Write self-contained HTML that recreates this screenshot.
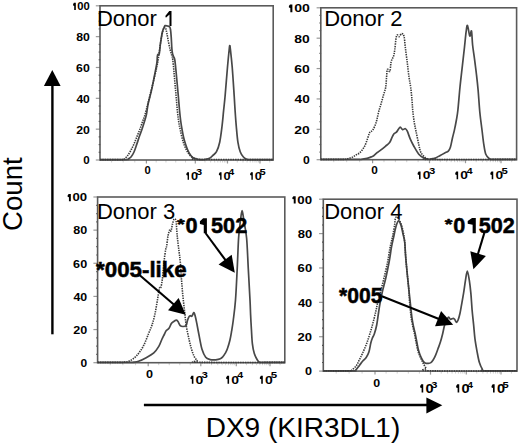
<!DOCTYPE html>
<html><head><meta charset="utf-8"><style>
html,body{margin:0;padding:0;background:#fff;}
body{width:520px;height:445px;overflow:hidden;}
svg{display:block;}
</style></head><body>
<svg width="520" height="445" viewBox="0 0 520 445">
<style>
text{font-family:"Liberation Sans",sans-serif;}
.fr{fill:none;stroke:#5a5a5a;stroke-width:1.6}
.tk{stroke:#999;stroke-width:1.2}
.ym{stroke:#444;stroke-width:1.2}
.mt{stroke:#ccc;stroke-width:0.9}
.sol{fill:none;stroke:#484848;stroke-width:1.7;stroke-linejoin:round}
.dot{fill:none;stroke:#3a3a3a;stroke-width:1.6;stroke-dasharray:1.4 1.0}
</style>
<rect width="520" height="445" fill="#fff"/>
<line x1="95.8" y1="160" x2="100" y2="160" class="tk"/>
<line x1="98.7" y1="152.29" x2="100.3" y2="152.29" class="ym"/>
<line x1="98.7" y1="144.58" x2="100.3" y2="144.58" class="ym"/>
<line x1="98.7" y1="136.87" x2="100.3" y2="136.87" class="ym"/>
<line x1="95.8" y1="129.16" x2="100" y2="129.16" class="tk"/>
<line x1="98.7" y1="121.45" x2="100.3" y2="121.45" class="ym"/>
<line x1="98.7" y1="113.74" x2="100.3" y2="113.74" class="ym"/>
<line x1="98.7" y1="106.03" x2="100.3" y2="106.03" class="ym"/>
<line x1="95.8" y1="98.32" x2="100" y2="98.32" class="tk"/>
<line x1="98.7" y1="90.61" x2="100.3" y2="90.61" class="ym"/>
<line x1="98.7" y1="82.9" x2="100.3" y2="82.9" class="ym"/>
<line x1="98.7" y1="75.19" x2="100.3" y2="75.19" class="ym"/>
<line x1="95.8" y1="67.48" x2="100" y2="67.48" class="tk"/>
<line x1="98.7" y1="59.77" x2="100.3" y2="59.77" class="ym"/>
<line x1="98.7" y1="52.06" x2="100.3" y2="52.06" class="ym"/>
<line x1="98.7" y1="44.35" x2="100.3" y2="44.35" class="ym"/>
<line x1="95.8" y1="36.64" x2="100" y2="36.64" class="tk"/>
<line x1="98.7" y1="28.93" x2="100.3" y2="28.93" class="ym"/>
<line x1="98.7" y1="21.22" x2="100.3" y2="21.22" class="ym"/>
<line x1="98.7" y1="13.51" x2="100.3" y2="13.51" class="ym"/>
<line x1="95.8" y1="5.8" x2="100" y2="5.8" class="tk"/>
<line x1="146.4" y1="160" x2="146.4" y2="163.5" class="tk"/>
<line x1="195.3" y1="160" x2="195.3" y2="163.5" class="tk"/>
<line x1="227.5" y1="160" x2="227.5" y2="163.5" class="tk"/>
<line x1="260" y1="160" x2="260" y2="163.5" class="tk"/>
<line x1="134.8" y1="160" x2="134.8" y2="162.5" class="mt"/>
<line x1="123.2" y1="160" x2="123.2" y2="162.5" class="mt"/>
<line x1="111.6" y1="160" x2="111.6" y2="162.5" class="mt"/>
<line x1="156.18" y1="160" x2="156.18" y2="162.5" class="mt"/>
<line x1="165.96" y1="160" x2="165.96" y2="162.5" class="mt"/>
<line x1="175.74" y1="160" x2="175.74" y2="162.5" class="mt"/>
<line x1="185.52" y1="160" x2="185.52" y2="162.5" class="mt"/>
<line x1="204.99" y1="160" x2="204.99" y2="162.5" class="mt"/>
<line x1="210.66" y1="160" x2="210.66" y2="162.5" class="mt"/>
<line x1="214.69" y1="160" x2="214.69" y2="162.5" class="mt"/>
<line x1="217.81" y1="160" x2="217.81" y2="162.5" class="mt"/>
<line x1="220.36" y1="160" x2="220.36" y2="162.5" class="mt"/>
<line x1="222.51" y1="160" x2="222.51" y2="162.5" class="mt"/>
<line x1="224.38" y1="160" x2="224.38" y2="162.5" class="mt"/>
<line x1="226.03" y1="160" x2="226.03" y2="162.5" class="mt"/>
<line x1="237.28" y1="160" x2="237.28" y2="162.5" class="mt"/>
<line x1="243.01" y1="160" x2="243.01" y2="162.5" class="mt"/>
<line x1="247.07" y1="160" x2="247.07" y2="162.5" class="mt"/>
<line x1="250.22" y1="160" x2="250.22" y2="162.5" class="mt"/>
<line x1="252.79" y1="160" x2="252.79" y2="162.5" class="mt"/>
<line x1="254.97" y1="160" x2="254.97" y2="162.5" class="mt"/>
<line x1="256.85" y1="160" x2="256.85" y2="162.5" class="mt"/>
<line x1="258.51" y1="160" x2="258.51" y2="162.5" class="mt"/>
<line x1="269.78" y1="160" x2="269.78" y2="162.5" class="mt"/>
<rect x="100" y="5.8" width="173.2" height="154.2" class="fr"/>
<text x="83.34" y="164.34" font-size="10.7" font-weight="bold" textLength="6.44" lengthAdjust="spacingAndGlyphs" fill="#000" >0</text>
<text x="76.17" y="133.5" font-size="10.7" font-weight="bold" textLength="13.65" lengthAdjust="spacingAndGlyphs" fill="#000" >20</text>
<text x="76.42" y="102.66" font-size="10.7" font-weight="bold" textLength="13.39" lengthAdjust="spacingAndGlyphs" fill="#000" >40</text>
<text x="76.14" y="71.83" font-size="10.7" font-weight="bold" textLength="13.68" lengthAdjust="spacingAndGlyphs" fill="#000" >60</text>
<text x="76.2" y="40.98" font-size="10.7" font-weight="bold" textLength="13.62" lengthAdjust="spacingAndGlyphs" fill="#000" >80</text>
<polygon fill="#000" points="75.83,2.76 75.83,10.05 74.2,10.05 74.2,5.96 73.1,5.53 73.1,4.21 73.91,2.76"/>
<text x="77.28" y="10.15" font-size="10.7" font-weight="bold" textLength="12.5" lengthAdjust="spacingAndGlyphs" fill="#000" >00</text>
<text x="144.45" y="174.3" font-size="10.5" font-weight="bold" textLength="6.21" lengthAdjust="spacingAndGlyphs" fill="#000" >0</text>
<polygon fill="#000" points="189.01,172.21 189.01,179.75 187.59,179.75 187.59,175.53 186.35,175.08 186.35,173.72 187.29,172.21"/>
<text x="191.05" y="179.9" font-size="11.2" font-weight="bold" textLength="7.07" lengthAdjust="spacingAndGlyphs" fill="#000" >0</text>
<text x="195.95" y="174.6" font-size="9.8" font-weight="bold" textLength="6.15" lengthAdjust="spacingAndGlyphs" fill="#000" >3</text>
<polygon fill="#000" points="221.56,172.21 221.56,179.75 220.14,179.75 220.14,175.53 218.9,175.08 218.9,173.72 219.84,172.21"/>
<text x="223.6" y="179.9" font-size="11.2" font-weight="bold" textLength="7.07" lengthAdjust="spacingAndGlyphs" fill="#000" >0</text>
<text x="228.6" y="174.6" font-size="9.8" font-weight="bold" textLength="5.72" lengthAdjust="spacingAndGlyphs" fill="#000" >4</text>
<polygon fill="#000" points="252.81,172.21 252.81,179.75 251.39,179.75 251.39,175.53 250.15,175.08 250.15,173.72 251.09,172.21"/>
<text x="254.85" y="179.9" font-size="11.2" font-weight="bold" textLength="7.07" lengthAdjust="spacingAndGlyphs" fill="#000" >0</text>
<text x="259.64" y="174.6" font-size="9.8" font-weight="bold" textLength="6.18" lengthAdjust="spacingAndGlyphs" fill="#000" >5</text>
<line x1="316.6" y1="159.7" x2="320.8" y2="159.7" class="tk"/>
<line x1="319.5" y1="152.1" x2="321.1" y2="152.1" class="ym"/>
<line x1="319.5" y1="144.51" x2="321.1" y2="144.51" class="ym"/>
<line x1="319.5" y1="136.91" x2="321.1" y2="136.91" class="ym"/>
<line x1="316.6" y1="129.32" x2="320.8" y2="129.32" class="tk"/>
<line x1="319.5" y1="121.72" x2="321.1" y2="121.72" class="ym"/>
<line x1="319.5" y1="114.13" x2="321.1" y2="114.13" class="ym"/>
<line x1="319.5" y1="106.53" x2="321.1" y2="106.53" class="ym"/>
<line x1="316.6" y1="98.94" x2="320.8" y2="98.94" class="tk"/>
<line x1="319.5" y1="91.34" x2="321.1" y2="91.34" class="ym"/>
<line x1="319.5" y1="83.75" x2="321.1" y2="83.75" class="ym"/>
<line x1="319.5" y1="76.16" x2="321.1" y2="76.16" class="ym"/>
<line x1="316.6" y1="68.56" x2="320.8" y2="68.56" class="tk"/>
<line x1="319.5" y1="60.97" x2="321.1" y2="60.97" class="ym"/>
<line x1="319.5" y1="53.37" x2="321.1" y2="53.37" class="ym"/>
<line x1="319.5" y1="45.78" x2="321.1" y2="45.78" class="ym"/>
<line x1="316.6" y1="38.18" x2="320.8" y2="38.18" class="tk"/>
<line x1="319.5" y1="30.59" x2="321.1" y2="30.59" class="ym"/>
<line x1="319.5" y1="22.99" x2="321.1" y2="22.99" class="ym"/>
<line x1="319.5" y1="15.4" x2="321.1" y2="15.4" class="ym"/>
<line x1="316.6" y1="7.8" x2="320.8" y2="7.8" class="tk"/>
<line x1="372.6" y1="159.7" x2="372.6" y2="163.2" class="tk"/>
<line x1="429.5" y1="159.7" x2="429.5" y2="163.2" class="tk"/>
<line x1="465.5" y1="159.7" x2="465.5" y2="163.2" class="tk"/>
<line x1="501" y1="159.7" x2="501" y2="163.2" class="tk"/>
<line x1="359.65" y1="159.7" x2="359.65" y2="162.2" class="mt"/>
<line x1="346.7" y1="159.7" x2="346.7" y2="162.2" class="mt"/>
<line x1="333.75" y1="159.7" x2="333.75" y2="162.2" class="mt"/>
<line x1="383.98" y1="159.7" x2="383.98" y2="162.2" class="mt"/>
<line x1="395.36" y1="159.7" x2="395.36" y2="162.2" class="mt"/>
<line x1="406.74" y1="159.7" x2="406.74" y2="162.2" class="mt"/>
<line x1="418.12" y1="159.7" x2="418.12" y2="162.2" class="mt"/>
<line x1="440.34" y1="159.7" x2="440.34" y2="162.2" class="mt"/>
<line x1="446.68" y1="159.7" x2="446.68" y2="162.2" class="mt"/>
<line x1="451.17" y1="159.7" x2="451.17" y2="162.2" class="mt"/>
<line x1="454.66" y1="159.7" x2="454.66" y2="162.2" class="mt"/>
<line x1="457.51" y1="159.7" x2="457.51" y2="162.2" class="mt"/>
<line x1="459.92" y1="159.7" x2="459.92" y2="162.2" class="mt"/>
<line x1="462.01" y1="159.7" x2="462.01" y2="162.2" class="mt"/>
<line x1="463.85" y1="159.7" x2="463.85" y2="162.2" class="mt"/>
<line x1="476.19" y1="159.7" x2="476.19" y2="162.2" class="mt"/>
<line x1="482.44" y1="159.7" x2="482.44" y2="162.2" class="mt"/>
<line x1="486.87" y1="159.7" x2="486.87" y2="162.2" class="mt"/>
<line x1="490.31" y1="159.7" x2="490.31" y2="162.2" class="mt"/>
<line x1="493.12" y1="159.7" x2="493.12" y2="162.2" class="mt"/>
<line x1="495.5" y1="159.7" x2="495.5" y2="162.2" class="mt"/>
<line x1="497.56" y1="159.7" x2="497.56" y2="162.2" class="mt"/>
<line x1="499.38" y1="159.7" x2="499.38" y2="162.2" class="mt"/>
<line x1="511.69" y1="159.7" x2="511.69" y2="162.2" class="mt"/>
<rect x="320.8" y="7.8" width="195.8" height="151.9" class="fr"/>
<text x="302.91" y="164.25" font-size="11.3" font-weight="bold" textLength="6.79" lengthAdjust="spacingAndGlyphs" fill="#000" >0</text>
<text x="294.31" y="133.88" font-size="11.3" font-weight="bold" textLength="15.48" lengthAdjust="spacingAndGlyphs" fill="#000" >20</text>
<text x="294.6" y="103.49" font-size="11.3" font-weight="bold" textLength="15.18" lengthAdjust="spacingAndGlyphs" fill="#000" >40</text>
<text x="294.28" y="73.11" font-size="11.3" font-weight="bold" textLength="15.51" lengthAdjust="spacingAndGlyphs" fill="#000" >60</text>
<text x="294.35" y="42.74" font-size="11.3" font-weight="bold" textLength="15.44" lengthAdjust="spacingAndGlyphs" fill="#000" >80</text>
<polygon fill="#000" points="292.37,4.55 292.37,12.26 290.33,12.26 290.33,7.94 288.9,7.47 288.9,6.09 290.02,4.55"/>
<text x="294.15" y="12.36" font-size="11.3" font-weight="bold" textLength="15.64" lengthAdjust="spacingAndGlyphs" fill="#000" >00</text>
<text x="371.33" y="173.9" font-size="10.5" font-weight="bold" textLength="6.56" lengthAdjust="spacingAndGlyphs" fill="#000" >0</text>
<polygon fill="#000" points="420.55,171.57 420.55,179.25 419.01,179.25 419.01,174.95 417.65,174.49 417.65,173.11 418.7,171.57"/>
<text x="422.73" y="179.4" font-size="11.4" font-weight="bold" textLength="7.63" lengthAdjust="spacingAndGlyphs" fill="#000" >0</text>
<text x="429.05" y="174.3" font-size="9.8" font-weight="bold" textLength="6.26" lengthAdjust="spacingAndGlyphs" fill="#000" >3</text>
<polygon fill="#000" points="458.15,171.57 458.15,179.25 456.61,179.25 456.61,174.95 455.25,174.49 455.25,173.11 456.3,171.57"/>
<text x="460.33" y="179.4" font-size="11.4" font-weight="bold" textLength="7.63" lengthAdjust="spacingAndGlyphs" fill="#000" >0</text>
<text x="466.74" y="174.3" font-size="9.8" font-weight="bold" textLength="5.82" lengthAdjust="spacingAndGlyphs" fill="#000" >4</text>
<polygon fill="#000" points="493.25,171.57 493.25,179.25 491.71,179.25 491.71,174.95 490.35,174.49 490.35,173.11 491.4,171.57"/>
<text x="495.43" y="179.4" font-size="11.4" font-weight="bold" textLength="7.63" lengthAdjust="spacingAndGlyphs" fill="#000" >0</text>
<text x="501.63" y="174.3" font-size="9.8" font-weight="bold" textLength="6.29" lengthAdjust="spacingAndGlyphs" fill="#000" >5</text>
<line x1="93.4" y1="362.7" x2="97.6" y2="362.7" class="tk"/>
<line x1="96.3" y1="354.41" x2="97.9" y2="354.41" class="ym"/>
<line x1="96.3" y1="346.13" x2="97.9" y2="346.13" class="ym"/>
<line x1="96.3" y1="337.84" x2="97.9" y2="337.84" class="ym"/>
<line x1="93.4" y1="329.56" x2="97.6" y2="329.56" class="tk"/>
<line x1="96.3" y1="321.27" x2="97.9" y2="321.27" class="ym"/>
<line x1="96.3" y1="312.99" x2="97.9" y2="312.99" class="ym"/>
<line x1="96.3" y1="304.7" x2="97.9" y2="304.7" class="ym"/>
<line x1="93.4" y1="296.42" x2="97.6" y2="296.42" class="tk"/>
<line x1="96.3" y1="288.13" x2="97.9" y2="288.13" class="ym"/>
<line x1="96.3" y1="279.85" x2="97.9" y2="279.85" class="ym"/>
<line x1="96.3" y1="271.56" x2="97.9" y2="271.56" class="ym"/>
<line x1="93.4" y1="263.28" x2="97.6" y2="263.28" class="tk"/>
<line x1="96.3" y1="255" x2="97.9" y2="255" class="ym"/>
<line x1="96.3" y1="246.71" x2="97.9" y2="246.71" class="ym"/>
<line x1="96.3" y1="238.42" x2="97.9" y2="238.42" class="ym"/>
<line x1="93.4" y1="230.14" x2="97.6" y2="230.14" class="tk"/>
<line x1="96.3" y1="221.86" x2="97.9" y2="221.86" class="ym"/>
<line x1="96.3" y1="213.57" x2="97.9" y2="213.57" class="ym"/>
<line x1="96.3" y1="205.28" x2="97.9" y2="205.28" class="ym"/>
<line x1="93.4" y1="197" x2="97.6" y2="197" class="tk"/>
<line x1="148.2" y1="362.7" x2="148.2" y2="366.2" class="tk"/>
<line x1="200.8" y1="362.7" x2="200.8" y2="366.2" class="tk"/>
<line x1="236.3" y1="362.7" x2="236.3" y2="366.2" class="tk"/>
<line x1="270" y1="362.7" x2="270" y2="366.2" class="tk"/>
<line x1="135.55" y1="362.7" x2="135.55" y2="365.2" class="mt"/>
<line x1="122.9" y1="362.7" x2="122.9" y2="365.2" class="mt"/>
<line x1="110.25" y1="362.7" x2="110.25" y2="365.2" class="mt"/>
<line x1="158.72" y1="362.7" x2="158.72" y2="365.2" class="mt"/>
<line x1="169.24" y1="362.7" x2="169.24" y2="365.2" class="mt"/>
<line x1="179.76" y1="362.7" x2="179.76" y2="365.2" class="mt"/>
<line x1="190.28" y1="362.7" x2="190.28" y2="365.2" class="mt"/>
<line x1="211.49" y1="362.7" x2="211.49" y2="365.2" class="mt"/>
<line x1="217.74" y1="362.7" x2="217.74" y2="365.2" class="mt"/>
<line x1="222.17" y1="362.7" x2="222.17" y2="365.2" class="mt"/>
<line x1="225.61" y1="362.7" x2="225.61" y2="365.2" class="mt"/>
<line x1="228.42" y1="362.7" x2="228.42" y2="365.2" class="mt"/>
<line x1="230.8" y1="362.7" x2="230.8" y2="365.2" class="mt"/>
<line x1="232.86" y1="362.7" x2="232.86" y2="365.2" class="mt"/>
<line x1="234.68" y1="362.7" x2="234.68" y2="365.2" class="mt"/>
<line x1="246.44" y1="362.7" x2="246.44" y2="365.2" class="mt"/>
<line x1="252.38" y1="362.7" x2="252.38" y2="365.2" class="mt"/>
<line x1="256.59" y1="362.7" x2="256.59" y2="365.2" class="mt"/>
<line x1="259.86" y1="362.7" x2="259.86" y2="365.2" class="mt"/>
<line x1="262.52" y1="362.7" x2="262.52" y2="365.2" class="mt"/>
<line x1="264.78" y1="362.7" x2="264.78" y2="365.2" class="mt"/>
<line x1="266.73" y1="362.7" x2="266.73" y2="365.2" class="mt"/>
<line x1="268.46" y1="362.7" x2="268.46" y2="365.2" class="mt"/>
<line x1="280.14" y1="362.7" x2="280.14" y2="365.2" class="mt"/>
<rect x="97.6" y="197" width="187.2" height="165.7" class="fr"/>
<text x="80.42" y="367.05" font-size="10.7" font-weight="bold" textLength="6.67" lengthAdjust="spacingAndGlyphs" fill="#000" >0</text>
<text x="73.16" y="333.91" font-size="10.7" font-weight="bold" textLength="13.97" lengthAdjust="spacingAndGlyphs" fill="#000" >20</text>
<text x="73.42" y="300.76" font-size="10.7" font-weight="bold" textLength="13.71" lengthAdjust="spacingAndGlyphs" fill="#000" >40</text>
<text x="73.13" y="267.62" font-size="10.7" font-weight="bold" textLength="14.01" lengthAdjust="spacingAndGlyphs" fill="#000" >60</text>
<text x="73.19" y="234.48" font-size="10.7" font-weight="bold" textLength="13.94" lengthAdjust="spacingAndGlyphs" fill="#000" >80</text>
<polygon fill="#000" points="70.84,193.95 70.84,201.25 68.93,201.25 68.93,197.16 67.6,196.73 67.6,195.41 68.64,193.95"/>
<text x="72.51" y="201.34" font-size="10.7" font-weight="bold" textLength="14.65" lengthAdjust="spacingAndGlyphs" fill="#000" >00</text>
<text x="145.99" y="377.9" font-size="10.6" font-weight="bold" textLength="7.03" lengthAdjust="spacingAndGlyphs" fill="#000" >0</text>
<polygon fill="#000" points="193.4,375.79 193.4,383.75 191.84,383.75 191.84,379.29 190.45,378.81 190.45,377.38 191.52,375.79"/>
<text x="195.62" y="383.9" font-size="11.8" font-weight="bold" textLength="7.76" lengthAdjust="spacingAndGlyphs" fill="#000" >0</text>
<text x="201.54" y="378" font-size="9.8" font-weight="bold" textLength="6.37" lengthAdjust="spacingAndGlyphs" fill="#000" >3</text>
<polygon fill="#000" points="229.1,375.79 229.1,383.75 227.54,383.75 227.54,379.29 226.15,378.81 226.15,377.38 227.22,375.79"/>
<text x="231.32" y="383.9" font-size="11.8" font-weight="bold" textLength="7.76" lengthAdjust="spacingAndGlyphs" fill="#000" >0</text>
<text x="237.34" y="378" font-size="9.8" font-weight="bold" textLength="5.93" lengthAdjust="spacingAndGlyphs" fill="#000" >4</text>
<polygon fill="#000" points="262.8,375.79 262.8,383.75 261.24,383.75 261.24,379.29 259.85,378.81 259.85,377.38 260.92,375.79"/>
<text x="265.02" y="383.9" font-size="11.8" font-weight="bold" textLength="7.76" lengthAdjust="spacingAndGlyphs" fill="#000" >0</text>
<text x="270.83" y="378" font-size="9.8" font-weight="bold" textLength="6.4" lengthAdjust="spacingAndGlyphs" fill="#000" >5</text>
<line x1="319.1" y1="371.1" x2="323.3" y2="371.1" class="tk"/>
<line x1="322" y1="362.5" x2="323.6" y2="362.5" class="ym"/>
<line x1="322" y1="353.91" x2="323.6" y2="353.91" class="ym"/>
<line x1="322" y1="345.31" x2="323.6" y2="345.31" class="ym"/>
<line x1="319.1" y1="336.72" x2="323.3" y2="336.72" class="tk"/>
<line x1="322" y1="328.12" x2="323.6" y2="328.12" class="ym"/>
<line x1="322" y1="319.53" x2="323.6" y2="319.53" class="ym"/>
<line x1="322" y1="310.94" x2="323.6" y2="310.94" class="ym"/>
<line x1="319.1" y1="302.34" x2="323.3" y2="302.34" class="tk"/>
<line x1="322" y1="293.75" x2="323.6" y2="293.75" class="ym"/>
<line x1="322" y1="285.15" x2="323.6" y2="285.15" class="ym"/>
<line x1="322" y1="276.56" x2="323.6" y2="276.56" class="ym"/>
<line x1="319.1" y1="267.96" x2="323.3" y2="267.96" class="tk"/>
<line x1="322" y1="259.37" x2="323.6" y2="259.37" class="ym"/>
<line x1="322" y1="250.77" x2="323.6" y2="250.77" class="ym"/>
<line x1="322" y1="242.18" x2="323.6" y2="242.18" class="ym"/>
<line x1="319.1" y1="233.58" x2="323.3" y2="233.58" class="tk"/>
<line x1="322" y1="224.98" x2="323.6" y2="224.98" class="ym"/>
<line x1="322" y1="216.39" x2="323.6" y2="216.39" class="ym"/>
<line x1="322" y1="207.79" x2="323.6" y2="207.79" class="ym"/>
<line x1="319.1" y1="199.2" x2="323.3" y2="199.2" class="tk"/>
<line x1="375" y1="371.1" x2="375" y2="374.6" class="tk"/>
<line x1="430.5" y1="371.1" x2="430.5" y2="374.6" class="tk"/>
<line x1="466.3" y1="371.1" x2="466.3" y2="374.6" class="tk"/>
<line x1="501" y1="371.1" x2="501" y2="374.6" class="tk"/>
<line x1="362.07" y1="371.1" x2="362.07" y2="373.6" class="mt"/>
<line x1="349.15" y1="371.1" x2="349.15" y2="373.6" class="mt"/>
<line x1="336.23" y1="371.1" x2="336.23" y2="373.6" class="mt"/>
<line x1="386.1" y1="371.1" x2="386.1" y2="373.6" class="mt"/>
<line x1="397.2" y1="371.1" x2="397.2" y2="373.6" class="mt"/>
<line x1="408.3" y1="371.1" x2="408.3" y2="373.6" class="mt"/>
<line x1="419.4" y1="371.1" x2="419.4" y2="373.6" class="mt"/>
<line x1="441.28" y1="371.1" x2="441.28" y2="373.6" class="mt"/>
<line x1="447.58" y1="371.1" x2="447.58" y2="373.6" class="mt"/>
<line x1="452.05" y1="371.1" x2="452.05" y2="373.6" class="mt"/>
<line x1="455.52" y1="371.1" x2="455.52" y2="373.6" class="mt"/>
<line x1="458.36" y1="371.1" x2="458.36" y2="373.6" class="mt"/>
<line x1="460.75" y1="371.1" x2="460.75" y2="373.6" class="mt"/>
<line x1="462.83" y1="371.1" x2="462.83" y2="373.6" class="mt"/>
<line x1="464.66" y1="371.1" x2="464.66" y2="373.6" class="mt"/>
<line x1="476.75" y1="371.1" x2="476.75" y2="373.6" class="mt"/>
<line x1="482.86" y1="371.1" x2="482.86" y2="373.6" class="mt"/>
<line x1="487.19" y1="371.1" x2="487.19" y2="373.6" class="mt"/>
<line x1="490.55" y1="371.1" x2="490.55" y2="373.6" class="mt"/>
<line x1="493.3" y1="371.1" x2="493.3" y2="373.6" class="mt"/>
<line x1="495.62" y1="371.1" x2="495.62" y2="373.6" class="mt"/>
<line x1="497.64" y1="371.1" x2="497.64" y2="373.6" class="mt"/>
<line x1="499.41" y1="371.1" x2="499.41" y2="373.6" class="mt"/>
<line x1="511.45" y1="371.1" x2="511.45" y2="373.6" class="mt"/>
<rect x="323.3" y="199.2" width="193.7" height="171.9" class="fr"/>
<text x="305.09" y="375.45" font-size="10.7" font-weight="bold" textLength="7.03" lengthAdjust="spacingAndGlyphs" fill="#000" >0</text>
<text x="297.64" y="341.07" font-size="10.7" font-weight="bold" textLength="14.51" lengthAdjust="spacingAndGlyphs" fill="#000" >20</text>
<text x="297.91" y="306.69" font-size="10.7" font-weight="bold" textLength="14.23" lengthAdjust="spacingAndGlyphs" fill="#000" >40</text>
<text x="297.61" y="272.31" font-size="10.7" font-weight="bold" textLength="14.54" lengthAdjust="spacingAndGlyphs" fill="#000" >60</text>
<text x="297.68" y="237.92" font-size="10.7" font-weight="bold" textLength="14.47" lengthAdjust="spacingAndGlyphs" fill="#000" >80</text>
<polygon fill="#000" points="295.67,196.15 295.67,203.44 293.74,203.44 293.74,199.36 292.4,198.93 292.4,197.61 293.45,196.15"/>
<text x="297.36" y="203.54" font-size="10.7" font-weight="bold" textLength="14.8" lengthAdjust="spacingAndGlyphs" fill="#000" >00</text>
<text x="373.3" y="386.5" font-size="10.6" font-weight="bold" textLength="6.91" lengthAdjust="spacingAndGlyphs" fill="#000" >0</text>
<polygon fill="#000" points="423.23,384.35 423.23,392.45 421.61,392.45 421.61,387.91 420.15,387.43 420.15,385.97 421.28,384.35"/>
<text x="425.53" y="392.6" font-size="12" font-weight="bold" textLength="8.07" lengthAdjust="spacingAndGlyphs" fill="#000" >0</text>
<text x="431.25" y="387.6" font-size="9.8" font-weight="bold" textLength="6.15" lengthAdjust="spacingAndGlyphs" fill="#000" >3</text>
<polygon fill="#000" points="459.23,384.35 459.23,392.45 457.61,392.45 457.61,387.91 456.15,387.43 456.15,385.97 457.28,384.35"/>
<text x="461.53" y="392.6" font-size="12" font-weight="bold" textLength="8.07" lengthAdjust="spacingAndGlyphs" fill="#000" >0</text>
<text x="467.35" y="387.6" font-size="9.8" font-weight="bold" textLength="5.72" lengthAdjust="spacingAndGlyphs" fill="#000" >4</text>
<polygon fill="#000" points="494.63,384.35 494.63,392.45 493,392.45 493,387.91 491.55,387.43 491.55,385.97 492.68,384.35"/>
<text x="496.93" y="392.6" font-size="12" font-weight="bold" textLength="8.07" lengthAdjust="spacingAndGlyphs" fill="#000" >0</text>
<text x="502.54" y="387.6" font-size="9.8" font-weight="bold" textLength="6.18" lengthAdjust="spacingAndGlyphs" fill="#000" >5</text>
<path class="sol" d="M100,159.6 C104.33,159.6 121.3,159.7 126,159.6 C130.7,159.5 127.37,159.43 128.2,159 C129.03,158.57 130.03,158.17 131,157 C131.97,155.83 133.02,154.18 134,152 C134.98,149.82 135.98,146.57 136.9,143.9 C137.82,141.23 138.65,138.45 139.5,136 C140.35,133.55 141.2,131.53 142,129.2 C142.8,126.87 143.57,124.43 144.3,122 C145.03,119.57 145.77,117.6 146.4,114.6 C147.03,111.6 147.25,108.03 148.1,104 C148.95,99.97 150.48,94.9 151.5,90.4 C152.52,85.9 153.32,81.48 154.2,77 C155.08,72.52 156.28,66.83 156.8,63.5 C157.32,60.17 157.13,58.52 157.3,57 C157.47,55.48 157.47,54.97 157.8,54.4 C158.13,53.83 158.87,55.33 159.3,53.6 C159.73,51.87 159.9,47.57 160.4,44 C160.9,40.43 161.67,34.97 162.3,32.2 C162.93,29.43 163.73,28.5 164.2,27.4 C164.67,26.3 164.57,25.83 165.1,25.6 C165.63,25.37 166.65,25.8 167.4,26 C168.15,26.2 169.08,26.22 169.6,26.8 C170.12,27.38 170.23,27.82 170.5,29.5 C170.77,31.18 170.97,33.65 171.2,36.9 C171.43,40.15 171.68,46.23 171.9,49 C172.12,51.77 172.23,52.25 172.5,53.5 C172.77,54.75 173.12,55.42 173.5,56.5 C173.88,57.58 174.37,57.42 174.8,60 C175.23,62.58 175.68,67.83 176.1,72 C176.52,76.17 176.92,80.83 177.3,85 C177.68,89.17 178.03,92.83 178.4,97 C178.77,101.17 179.12,106 179.5,110 C179.88,114 180.28,117.8 180.7,121 C181.12,124.2 181.53,126.53 182,129.2 C182.47,131.87 182.93,134.57 183.5,137 C184.07,139.43 184.73,141.72 185.4,143.8 C186.07,145.88 186.77,147.8 187.5,149.5 C188.23,151.2 189.05,152.78 189.8,154 C190.55,155.22 191.27,156.08 192,156.8 C192.73,157.52 193.53,158 194.2,158.3 C194.87,158.6 195.37,158.42 196,158.6 C196.63,158.78 197,159.23 198,159.4 C199,159.57 200.83,159.6 202,159.6 C203.17,159.6 203.67,159.67 205,159.4 C206.33,159.13 208.73,158.63 210,158 C211.27,157.37 211.52,156.65 212.6,155.6 C213.68,154.55 215.32,153.93 216.5,151.7 C217.68,149.47 218.78,146.4 219.7,142.2 C220.62,138 221.35,131.75 222,126.5 C222.65,121.25 223.08,115.78 223.6,110.7 C224.12,105.62 224.45,103.28 225.1,96 C225.75,88.72 226.8,74.92 227.5,67 C228.2,59.08 228.92,52.03 229.3,48.5 C229.68,44.97 229.63,45.8 229.8,45.8 C229.97,45.8 229.9,44.97 230.3,48.5 C230.7,52.03 231.55,59.08 232.2,67 C232.85,74.92 233.72,88.72 234.2,96 C234.68,103.28 234.75,105.62 235.1,110.7 C235.45,115.78 235.83,121.25 236.3,126.5 C236.77,131.75 237.25,138 237.9,142.2 C238.55,146.4 239.28,149.23 240.2,151.7 C241.12,154.17 242.27,155.72 243.4,157 C244.53,158.28 245.57,158.97 247,159.4 C248.43,159.83 247.67,159.57 252,159.6 C256.33,159.63 269.5,159.6 273,159.6"/>
<path class="sol" d="M320.8,159.4 C326.67,159.4 349.28,159.42 356,159.4 C362.72,159.38 359.25,159.48 361.1,159.3 C362.95,159.12 365.42,158.7 367.1,158.3 C368.78,157.9 370.1,157.33 371.2,156.9 C372.3,156.47 372.77,156.37 373.7,155.7 C374.63,155.03 375.87,153.65 376.8,152.9 C377.73,152.15 377.87,152.3 379.3,151.2 C380.73,150.1 383.68,147.75 385.4,146.3 C387.12,144.85 388.52,143.93 389.6,142.5 C390.68,141.07 391.17,139.17 391.9,137.7 C392.63,136.23 393.23,134.63 394,133.7 C394.77,132.77 395.5,133.18 396.5,132.1 C397.5,131.02 399,127.62 400,127.2 C401,126.78 401.6,129.35 402.5,129.6 C403.4,129.85 404.6,128.43 405.4,128.7 C406.2,128.97 406.5,129.52 407.3,131.2 C408.1,132.88 409.08,136.25 410.2,138.8 C411.32,141.35 412.57,143.93 414,146.5 C415.43,149.07 417.18,152.28 418.8,154.2 C420.42,156.12 422.25,157.18 423.7,158 C425.15,158.82 426.38,158.9 427.5,159.1 C428.62,159.3 429.4,159.3 430.4,159.2 C431.4,159.1 432.53,158.75 433.5,158.5 C434.47,158.25 435.08,158.22 436.2,157.7 C437.32,157.18 438.77,156.2 440.2,155.4 C441.63,154.6 443.45,153.62 444.8,152.9 C446.15,152.18 447.37,152.03 448.3,151.1 C449.23,150.17 449.72,149.45 450.4,147.3 C451.08,145.15 451.73,141.07 452.4,138.2 C453.07,135.33 453.73,133.13 454.4,130.1 C455.07,127.07 455.82,123.35 456.4,120 C456.98,116.65 457.3,115.5 457.9,110 C458.5,104.5 459.25,94.4 460,87 C460.75,79.6 461.65,72.27 462.4,65.6 C463.15,58.93 463.88,52.62 464.5,47 C465.12,41.38 465.6,35.48 466.1,31.9 C466.6,28.32 466.88,24.8 467.5,25.5 C468.12,26.2 469.13,35.18 469.8,36.1 C470.47,37.02 471.03,29.52 471.5,31 C471.97,32.48 472.1,40.37 472.6,45 C473.1,49.63 473.87,53.97 474.5,58.8 C475.13,63.63 475.8,68.8 476.4,74 C477,79.2 477.53,83.67 478.1,90 C478.67,96.33 479.15,105.33 479.8,112 C480.45,118.67 481.33,124.6 482,130 C482.67,135.4 483.17,140.37 483.8,144.4 C484.43,148.43 484.87,151.82 485.8,154.2 C486.73,156.58 488.2,157.83 489.4,158.7 C490.6,159.57 488.47,159.28 493,159.4 C497.53,159.52 512.67,159.4 516.6,159.4"/>
<path class="sol" d="M97.6,362.4 C103.17,362.4 124.98,362.43 131,362.4 C137.02,362.37 132.45,362.38 133.7,362.2 C134.95,362.02 136.42,362.05 138.5,361.3 C140.58,360.55 143.65,359.1 146.2,357.7 C148.75,356.3 151.7,354.78 153.8,352.9 C155.9,351.02 157.47,348.63 158.8,346.4 C160.13,344.17 160.93,341.4 161.8,339.5 C162.67,337.6 163.25,336.5 164,335 C164.75,333.5 165.47,331.62 166.3,330.5 C167.13,329.38 168.18,329.42 169,328.3 C169.82,327.18 170.53,324.85 171.2,323.8 C171.87,322.75 172.17,322.6 173,322 C173.83,321.4 175.37,320.27 176.2,320.2 C177.03,320.13 177.33,320.7 178,321.6 C178.67,322.5 179.38,324.78 180.2,325.6 C181.02,326.42 181.92,326.5 182.9,326.5 C183.88,326.5 185.35,326.57 186.1,325.6 C186.85,324.63 186.95,322.12 187.4,320.7 C187.85,319.28 188.35,317.93 188.8,317.1 C189.25,316.27 189.58,315.85 190.1,315.7 C190.62,315.55 191.3,316.72 191.9,316.2 C192.5,315.68 193.18,312.75 193.7,312.6 C194.22,312.45 194.48,313.5 195,315.3 C195.52,317.1 196.05,319.67 196.8,323.4 C197.55,327.13 198.65,333.43 199.5,337.7 C200.35,341.97 200.87,345.73 201.9,349 C202.93,352.27 204.32,355.53 205.7,357.3 C207.08,359.07 208.52,359.18 210.2,359.6 C211.88,360.02 214.12,359.93 215.8,359.8 C217.48,359.67 219.13,359.3 220.3,358.8 C221.47,358.3 221.97,357.73 222.8,356.8 C223.63,355.87 224.55,354.5 225.3,353.2 C226.05,351.9 226.53,351.17 227.3,349 C228.07,346.83 229.18,343.17 229.9,340.2 C230.62,337.23 231.03,334.57 231.6,331.2 C232.17,327.83 232.65,325.2 233.3,320 C233.95,314.8 234.85,308.5 235.5,300 C236.15,291.5 236.68,279.33 237.2,269 C237.72,258.67 238.07,246 238.6,238 C239.13,230 239.82,225.57 240.4,221 C240.98,216.43 241.52,210.6 242.1,210.6 C242.68,210.6 243.15,216.43 243.9,221 C244.65,225.57 245.87,230 246.6,238 C247.33,246 247.73,258.67 248.3,269 C248.87,279.33 249.62,292.4 250,300 C250.38,307.6 250.37,309.72 250.6,314.6 C250.83,319.48 251.1,324.42 251.4,329.3 C251.7,334.18 251.92,339.85 252.4,343.9 C252.88,347.95 253.5,350.95 254.3,353.6 C255.1,356.25 256.33,358.35 257.2,359.8 C258.07,361.25 258.7,361.87 259.5,362.3 C260.3,362.73 257.78,362.38 262,362.4 C266.22,362.42 281,362.4 284.8,362.4"/>
<path class="sol" d="M323.3,370.8 C328.25,370.8 347.62,370.9 353,370.8 C358.38,370.7 354.53,371.1 355.6,370.2 C356.67,369.3 358.2,366.93 359.4,365.4 C360.6,363.87 361.67,362.33 362.8,361 C363.93,359.67 365.18,358.9 366.2,357.4 C367.22,355.9 368.13,354.4 368.9,352 C369.67,349.6 370.22,345.33 370.8,343 C371.38,340.67 371.82,339.5 372.4,338 C372.98,336.5 373.58,336.17 374.3,334 C375.02,331.83 375.97,328.75 376.7,325 C377.43,321.25 378.17,315 378.7,311.5 C379.23,308 379.3,307.25 379.9,304 C380.5,300.75 381.32,296.33 382.3,292 C383.28,287.67 384.67,283 385.8,278 C386.93,273 388.32,266.08 389.1,262 C389.88,257.92 390.13,255.83 390.5,253.5 C390.87,251.17 390.92,250.12 391.3,248 C391.68,245.88 392.37,242.8 392.8,240.8 C393.23,238.8 393.5,237.88 393.9,236 C394.3,234.12 394.75,231.42 395.2,229.5 C395.65,227.58 396.03,225.95 396.6,224.5 C397.17,223.05 397.83,220.55 398.6,220.8 C399.37,221.05 400.47,223.8 401.2,226 C401.93,228.2 402.42,231.33 403,234 C403.58,236.67 404.27,238.38 404.7,242 C405.13,245.62 405.22,250.8 405.6,255.7 C405.98,260.6 406.5,266.15 407,271.4 C407.5,276.65 408.08,282.27 408.6,287.2 C409.12,292.13 409.57,296.07 410.1,301 C410.63,305.93 411.23,312.55 411.8,316.8 C412.37,321.05 412.93,323.68 413.5,326.5 C414.07,329.32 414.63,331.03 415.2,333.7 C415.77,336.37 416.35,339.73 416.9,342.5 C417.45,345.27 417.95,348.17 418.5,350.3 C419.05,352.43 419.63,353.87 420.2,355.3 C420.77,356.73 421.33,357.8 421.9,358.9 C422.47,360 422.98,361.18 423.6,361.9 C424.22,362.62 424.83,362.95 425.6,363.2 C426.37,363.45 427.32,363.5 428.2,363.4 C429.08,363.3 430.08,363.17 430.9,362.6 C431.72,362.03 432.35,361.17 433.1,360 C433.85,358.83 434.6,357.43 435.4,355.6 C436.2,353.77 437.07,351.25 437.9,349 C438.73,346.75 439.62,344.6 440.4,342.1 C441.18,339.6 441.87,336.92 442.6,334 C443.33,331.08 443.85,327.38 444.8,324.6 C445.75,321.82 447.37,318.18 448.3,317.3 C449.23,316.42 449.55,319.13 450.4,319.3 C451.25,319.47 452.65,318.22 453.4,318.3 C454.15,318.38 454.4,319.13 454.9,319.8 C455.4,320.47 455.88,322.22 456.4,322.3 C456.92,322.38 457.4,321.82 458,320.3 C458.6,318.78 459.42,315.73 460,313.2 C460.58,310.67 460.92,308.35 461.5,305.1 C462.08,301.85 462.83,297.85 463.5,293.7 C464.17,289.55 464.87,283.97 465.5,280.2 C466.13,276.43 466.67,271.1 467.3,271.1 C467.93,271.1 468.7,276.43 469.3,280.2 C469.9,283.97 470.43,288.73 470.9,293.7 C471.37,298.67 471.65,304.85 472.1,310 C472.55,315.15 473.12,319.73 473.6,324.6 C474.08,329.47 474.4,334.58 475,339.2 C475.6,343.82 476.47,348.4 477.2,352.3 C477.93,356.2 478.55,359.8 479.4,362.6 C480.25,365.4 481.45,367.73 482.3,369.1 C483.15,370.47 478.72,370.52 484.5,370.8 C490.28,371.08 511.58,370.8 517,370.8"/>
<path class="dot" d="M100,159.6 C103.5,159.6 117.03,159.67 121,159.6 C124.97,159.53 122.8,159.72 123.8,159.2 C124.8,158.68 125.88,157.87 127,156.5 C128.12,155.13 129.33,153.1 130.5,151 C131.67,148.9 132.92,146.32 134,143.9 C135.08,141.48 136.02,138.95 137,136.5 C137.98,134.05 138.97,131.7 139.9,129.2 C140.83,126.7 141.75,123.93 142.6,121.5 C143.45,119.07 144.13,117.52 145,114.6 C145.87,111.68 146.77,108.03 147.8,104 C148.83,99.97 150.08,94.9 151.2,90.4 C152.32,85.9 153.53,81.07 154.5,77 C155.47,72.93 156.35,69.17 157,66 C157.65,62.83 157.93,61 158.4,58 C158.87,55 159.33,51.17 159.8,48 C160.27,44.83 160.72,41.75 161.2,39 C161.68,36.25 162.2,33.47 162.7,31.5 C163.2,29.53 163.72,27.73 164.2,27.2 C164.68,26.67 165.17,27.33 165.6,28.3 C166.03,29.27 166.33,30.78 166.8,33 C167.27,35.22 167.83,38.77 168.4,41.6 C168.97,44.43 169.63,47.68 170.2,50 C170.77,52.32 171.37,53.83 171.8,55.5 C172.23,57.17 172.43,57.25 172.8,60 C173.17,62.75 173.62,67.83 174,72 C174.38,76.17 174.73,80.83 175.1,85 C175.47,89.17 175.83,92.83 176.2,97 C176.57,101.17 176.9,106 177.3,110 C177.7,114 178.1,117.67 178.6,121 C179.1,124.33 179.43,126.2 180.3,130 C181.17,133.8 182.38,139.8 183.8,143.8 C185.22,147.8 187.07,151.58 188.8,154 C190.53,156.42 192.67,157.4 194.2,158.3 C195.73,159.2 184.87,159.18 198,159.4 C211.13,159.62 260.5,159.57 273,159.6"/>
<path class="dot" d="M320.8,159.4 C324.33,159.4 337.83,159.43 342,159.4 C346.17,159.37 344.63,159.37 345.8,159.2 C346.97,159.03 347.88,158.75 349,158.4 C350.12,158.05 351.33,157.67 352.5,157.1 C353.67,156.53 354.73,155.78 356,155 C357.27,154.22 358.67,153.85 360.1,152.4 C361.53,150.95 363.33,148.67 364.6,146.3 C365.87,143.93 366.85,140.47 367.7,138.2 C368.55,135.93 368.87,134.05 369.7,132.7 C370.53,131.35 371.78,131.37 372.7,130.1 C373.62,128.83 374.52,126.78 375.2,125.1 C375.88,123.42 376.25,122.1 376.8,120 C377.35,117.9 377.8,115.17 378.5,112.5 C379.2,109.83 380.15,106.95 381,104 C381.85,101.05 382.82,97.57 383.6,94.8 C384.38,92.03 385.22,90.2 385.7,87.4 C386.18,84.6 386.22,81 386.5,78 C386.78,75 386.83,70.52 387.4,69.4 C387.97,68.28 389.28,72.53 389.9,71.3 C390.52,70.07 390.48,64.57 391.1,62 C391.72,59.43 392.98,57.95 393.6,55.9 C394.22,53.85 394.4,52.58 394.8,49.7 C395.2,46.82 395.58,41.07 396,38.6 C396.42,36.13 396.78,35.22 397.3,34.9 C397.82,34.58 398.38,36.92 399.1,36.7 C399.82,36.48 400.78,33.7 401.6,33.6 C402.42,33.5 403.38,33.83 404,36.1 C404.62,38.37 404.77,42.88 405.3,47.2 C405.83,51.52 406.58,57.05 407.2,62 C407.82,66.95 408.42,72.67 409,76.9 C409.58,81.13 410.2,83.55 410.7,87.4 C411.2,91.25 411.67,96.23 412,100 C412.33,103.77 412.33,106.33 412.7,110 C413.07,113.67 413.65,118.47 414.2,122 C414.75,125.53 415.23,127.43 416,131.2 C416.77,134.97 418,141.08 418.8,144.6 C419.6,148.12 419.83,150.22 420.8,152.3 C421.77,154.38 423.48,156.02 424.6,157.1 C425.72,158.18 426.53,158.42 427.5,158.8 C428.47,159.18 415.55,159.3 430.4,159.4 C445.25,159.5 502.23,159.4 516.6,159.4"/>
<path class="dot" d="M97.6,362.4 C101.33,362.4 115.77,362.43 120,362.4 C124.23,362.37 121.53,362.38 123,362.2 C124.47,362.02 126.55,362.37 128.8,361.3 C131.05,360.23 134.08,358.32 136.5,355.8 C138.92,353.28 141.28,349.92 143.3,346.2 C145.32,342.48 147.15,337.03 148.6,333.5 C150.05,329.97 150.97,328.13 152,325 C153.03,321.87 153.93,318.62 154.8,314.7 C155.67,310.78 156.43,305.88 157.2,301.5 C157.97,297.12 158.8,290.7 159.4,288.4 C160,286.1 160.32,289.17 160.8,287.7 C161.28,286.23 161.85,282.88 162.3,279.6 C162.75,276.32 163.17,271.38 163.5,268 C163.83,264.62 163.95,262.3 164.3,259.3 C164.65,256.3 165.2,252.27 165.6,250 C166,247.73 166.3,248.05 166.7,245.7 C167.1,243.35 167.48,238.57 168,235.9 C168.52,233.23 169.3,230.52 169.8,229.7 C170.3,228.88 170.55,231.95 171,231 C171.45,230.05 171.98,225.97 172.5,224 C173.02,222.03 173.52,219.7 174.1,219.2 C174.68,218.7 175.48,218.22 176,221 C176.52,223.78 176.68,230.75 177.2,235.9 C177.72,241.05 178.58,247.55 179.1,251.9 C179.62,256.25 179.93,257.87 180.3,262 C180.67,266.13 180.9,271.33 181.3,276.7 C181.7,282.07 182.15,288.4 182.7,294.2 C183.25,300 184,306.2 184.6,311.5 C185.2,316.8 185.52,321.17 186.3,326 C187.08,330.83 188.42,336.58 189.3,340.5 C190.18,344.42 190.82,346.92 191.6,349.5 C192.38,352.08 193.1,354.15 194,356 C194.9,357.85 196.08,359.55 197,360.6 C197.92,361.65 184.87,362 199.5,362.3 C214.13,362.6 270.58,362.38 284.8,362.4"/>
<path class="dot" d="M323.3,370.8 C327.67,370.8 344.77,370.9 349.5,370.8 C354.23,370.7 350.53,371.1 351.7,370.2 C352.87,369.3 355.2,367.18 356.5,365.4 C357.8,363.62 358.53,361.43 359.5,359.5 C360.47,357.57 361.03,356.67 362.3,353.8 C363.57,350.93 365.5,346.78 367.1,342.3 C368.7,337.82 370.45,332.03 371.9,326.9 C373.35,321.77 374.88,315.32 375.8,311.5 C376.72,307.68 376.62,307.25 377.4,304 C378.18,300.75 379.4,296.33 380.5,292 C381.6,287.67 382.82,283 384,278 C385.18,273 386.63,266.83 387.6,262 C388.57,257.17 389.18,252.33 389.8,249 C390.42,245.67 390.88,243.83 391.3,242 C391.72,240.17 391.98,239.43 392.3,238 C392.62,236.57 392.82,235.57 393.2,233.4 C393.58,231.23 394.23,227.48 394.6,225 C394.97,222.52 395,219.87 395.4,218.5 C395.8,217.13 396.37,216.55 397,216.8 C397.63,217.05 398.47,218.67 399.2,220 C399.93,221.33 400.68,222.57 401.4,224.8 C402.12,227.03 402.95,230.53 403.5,233.4 C404.05,236.27 404.35,238.28 404.7,242 C405.05,245.72 405.22,250.8 405.6,255.7 C405.98,260.6 406.5,266.15 407,271.4 C407.5,276.65 408.18,282.27 408.6,287.2 C409.02,292.13 409.08,296.07 409.5,301 C409.92,305.93 410.55,312.55 411.1,316.8 C411.65,321.05 412.23,323.68 412.8,326.5 C413.37,329.32 413.95,331.03 414.5,333.7 C415.05,336.37 415.55,339.73 416.1,342.5 C416.65,345.27 417.22,348.13 417.8,350.3 C418.38,352.47 419,353.97 419.6,355.5 C420.2,357.03 420.73,358.08 421.4,359.5 C422.07,360.92 422.78,362.53 423.6,364 C424.42,365.47 425.32,367.17 426.3,368.3 C427.28,369.43 414.38,370.38 429.5,370.8 C444.62,371.22 502.42,370.8 517,370.8"/>
<text x="96.98" y="26.1" font-size="22" font-weight="normal" textLength="59.92" lengthAdjust="spacingAndGlyphs" fill="#000" >Donor</text>
<polygon fill="#000" points="171.5,11.1 171.5,26.1 169.5,26.1 169.5,14.6 165.9,17.7 165.3,16.1 169.3,11.1"/>
<text x="324.19" y="26.3" font-size="22" font-weight="normal" textLength="78.27" lengthAdjust="spacingAndGlyphs" fill="#000" >Donor 2</text>
<text x="96.98" y="218.6" font-size="22" font-weight="normal" textLength="78.27" lengthAdjust="spacingAndGlyphs" fill="#000" >Donor 3</text>
<text x="324.19" y="218.8" font-size="22" font-weight="normal" textLength="78.27" lengthAdjust="spacingAndGlyphs" fill="#000" >Donor 4</text>
<text transform="translate(176.9,228.87) scale(1.290,1)" font-size="15.30" font-weight="bold" fill="#000"  stroke="#000" stroke-width="0.5" stroke-linejoin="round">*</text>
<text x="185.43" y="233" font-size="21.6" font-weight="bold" textLength="12.06" lengthAdjust="spacingAndGlyphs" fill="#000" stroke="#000" stroke-width="0.5">0</text>
<polygon fill="#000" points="206.9,218.3 206.9,233.3 203.75,233.3 203.75,224.9 199.9,224 199.9,221.3 203.15,218.3"/>
<text x="211.1" y="233" font-size="21.6" font-weight="bold" textLength="36.09" lengthAdjust="spacingAndGlyphs" fill="#000" stroke="#000" stroke-width="0.5">502</text>
<text x="96.14" y="276.9" font-size="21.4" font-weight="bold" textLength="90.51" lengthAdjust="spacingAndGlyphs" fill="#000" stroke="#000" stroke-width="0.5">*005-like</text>
<text x="338.95" y="302.9" font-size="21.6" font-weight="bold" textLength="43.44" lengthAdjust="spacingAndGlyphs" fill="#000" stroke="#000" stroke-width="0.5">*005</text>
<text transform="translate(444.7,228.97) scale(1.290,1)" font-size="15.30" font-weight="bold" fill="#000"  stroke="#000" stroke-width="0.5" stroke-linejoin="round">*</text>
<text x="453.23" y="232.9" font-size="21.6" font-weight="bold" textLength="12.06" lengthAdjust="spacingAndGlyphs" fill="#000" stroke="#000" stroke-width="0.5">0</text>
<polygon fill="#000" points="475.8,218.1 475.8,233.2 472.63,233.2 472.63,224.74 467.7,223.84 467.7,221.12 472.02,218.1"/>
<text x="478.8" y="232.9" font-size="21.6" font-weight="bold" textLength="36.09" lengthAdjust="spacingAndGlyphs" fill="#000" stroke="#000" stroke-width="0.5">502</text>
<line x1="205.5" y1="233" x2="225.73" y2="260.48" stroke="#000" stroke-width="2.1"/>
<polygon points="234.8,272.8 218.57,264.51 231.7,254.84" fill="#000"/>
<line x1="138.9" y1="274.5" x2="174.09" y2="304.73" stroke="#000" stroke-width="2.1"/>
<polygon points="185.7,314.7 168.02,310.26 178.65,297.9" fill="#000"/>
<line x1="381.9" y1="296.3" x2="438.99" y2="319.04" stroke="#000" stroke-width="2.1"/>
<polygon points="453.2,324.7 435.04,326.24 441.07,311.1" fill="#000"/>
<line x1="484.3" y1="233" x2="477.81" y2="254.55" stroke="#000" stroke-width="2.1"/>
<polygon points="473.4,269.2 470.3,251.24 485.9,255.94" fill="#000"/>
<line x1="52.4" y1="334.3" x2="52.4" y2="85" stroke="#000" stroke-width="2.4"/>
<polygon points="52.3,69.9 43.9,86.1 60.6,86.1" fill="#000"/>
<line x1="143.9" y1="405" x2="427.5" y2="405" stroke="#000" stroke-width="2.5"/>
<polygon points="442.3,405.2 426.4,397.5 426.4,413.4" fill="#000"/>
<text transform="translate(22.4,230.98) rotate(-90)" font-size="27.6" textLength="73.62" lengthAdjust="spacingAndGlyphs">Count</text>
<text x="205.69" y="437.4" font-size="28" font-weight="normal" textLength="194.55" lengthAdjust="spacingAndGlyphs" fill="#000" >DX9 (KIR3DL1)</text>
</svg>
</body></html>
